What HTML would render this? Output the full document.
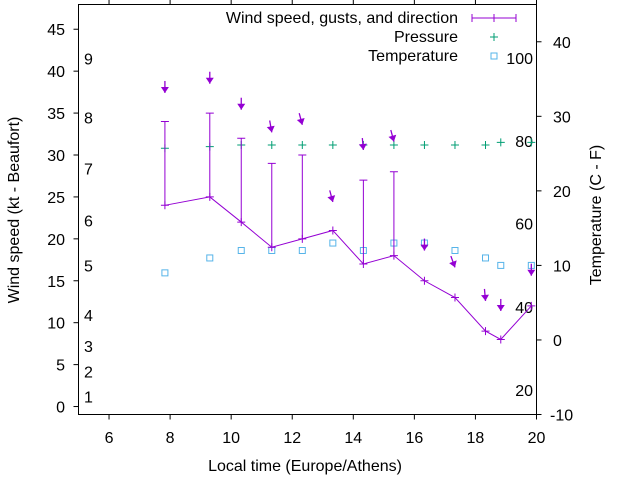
<!DOCTYPE html>
<html><head><meta charset="utf-8"><style>
html,body{margin:0;padding:0;background:#fff}
svg{display:block;font-family:"Liberation Sans",sans-serif}
</style></head><body>
<svg id="chart" width="640" height="480" viewBox="0 0 640 480"></svg>
<script>
const times=[7.83,9.3,10.33,11.33,12.33,13.33,14.33,15.33,16.33,17.33,18.33,18.83,19.83];
const windKt=[24,25,22,19,20,21,17,18,15,13,9,8,12];
const gustKt=[34,35,32,29,30,null,27,28,null,null,null,null,null];
const arrowPos=[37.4,38.5,35.4,32.7,33.6,24.4,30.6,31.6,18.6,16.6,12.6,11.4,15.6];
const windDir=[0,0,0,350,345,345,355,345,0,340,355,0,0];
const pressure=[30.8,31.0,31.2,31.2,31.2,31.2,31.2,31.2,31.2,31.2,31.2,31.5,31.5];
const tempC=[9,11,12,12,12,13,12,13,13,12,11,10,10];
const xTicks=[6,8,10,12,14,16,18,20];
const yTicks=[0,5,10,15,20,25,30,35,40,45];
const y2Ticks=[-10,0,10,20,30,40];
const beaufortLabels=["1","2","3","4","5","6","7","8","9"];
const beaufortY=[1.2,4.2,7.2,10.9,16.8,22.2,28.4,34.5,41.5];
const fahrLabels=["20","40","60","80","100"];
const fahrC=[-6.7,4.4,15.6,26.7,37.8];

const L=78.5,R=536.5,T=4.5,B=414.5;
const X=t=>L+(t-5)*(R-L)/15;
const Y=v=>B-(v+0.95)*(B-T)/48.9;
const Y2=v=>B-(v+10)*(B-T)/55;
const svg=document.getElementById('chart');
const NS='http://www.w3.org/2000/svg';
function mk(tag,attrs,name,text){const e=document.createElementNS(NS,tag);for(const k in attrs)e.setAttribute(k,attrs[k]);


if(text!==undefined)e.textContent=text;svg.appendChild(e);return e;}
const P='#9400d3',G='#009e73',C='#56b4e9';

mk('rect',{x:L,y:T,width:R-L,height:B-T,fill:'none',stroke:'#000','stroke-width':1},'plot-frame');
xTicks.forEach(t=>{const x=X(t);
mk('line',{x1:x,y1:B,x2:x,y2:B+5,stroke:'#000'},'x-tick');
mk('line',{x1:x,y1:T,x2:x,y2:T-5,stroke:'#000'},'x2-tick');
mk('text',{x:x,y:443,'text-anchor':'middle','font-size':16},'x-tick-label',String(t));});
yTicks.forEach(v=>{const y=Y(v);
mk('line',{x1:L-5,y1:y,x2:L,y2:y,stroke:'#000'},'y-tick');
mk('text',{x:65,y:y+6,'text-anchor':'end','font-size':16},'y-tick-label',String(v));});
y2Ticks.forEach(v=>{const y=Y2(v);
mk('line',{x1:R,y1:y,x2:R+5,y2:y,stroke:'#000'},'y2-tick');
mk('text',{x:v<0?550:553,y:y+6,'text-anchor':'start','font-size':16},'y2-tick-label',String(v));});
beaufortLabels.forEach((s,i)=>mk('text',{x:84,y:Y(beaufortY[i])+6,'font-size':16},'beaufort-label',s));
fahrLabels.forEach((s,i)=>mk('text',{x:533,y:Y2(fahrC[i])+6,'text-anchor':'end','font-size':16},'fahrenheit-label',s));

mk('text',{x:305,y:471,'text-anchor':'middle','font-size':16},'x-axis-title','Local time (Europe/Athens)');
mk('text',{x:0,y:0,'text-anchor':'middle','font-size':16,transform:'translate(19,210) rotate(-90)'},'y-axis-title','Wind speed (kt - Beaufort)');
mk('text',{x:0,y:0,'text-anchor':'middle','font-size':16,transform:'translate(601,215) rotate(-90)'},'y2-axis-title','Temperature (C - F)');

// temperature
times.forEach((t,i)=>mk('rect',{x:X(t)-3,y:Y2(tempC[i])-3,width:6,height:6,fill:'none',stroke:C},'temperature-point'));
// pressure
times.forEach((t,i)=>{const x=X(t),y=Y(pressure[i]);
mk('path',{d:`M${x-4},${y}H${x+4}M${x},${y-4}V${y+4}`,stroke:G},'pressure-point');});
// wind line
mk('polyline',{points:times.map((t,i)=>X(t)+','+Y(windKt[i])).join(' '),fill:'none',stroke:P},'wind-line');
times.forEach((t,i)=>{const x=X(t),y=Y(windKt[i]);
mk('path',{d:`M${x-4},${y}H${x+4}M${x},${y-4}V${y+4}`,stroke:P},'wind-point');
if(gustKt[i]!==null){const g=Y(gustKt[i]);
mk('path',{d:`M${x},${y}V${g}M${x-4},${g}H${x+4}`,stroke:P},'gust-bar');}});
// direction arrows
times.forEach((t,i)=>{const hx=X(t),hy=Y(arrowPos[i]);const a=windDir[i]*Math.PI/180;
const dx=Math.sin(a),dy=-Math.cos(a);const len=12;
const tx=hx+dx*len,ty=hy+dy*len;
const px=-dy,py=dx;
mk('line',{x1:tx,y1:ty,x2:hx,y2:hy,stroke:P,'stroke-width':1.3},'direction-arrow-shaft');
mk('polygon',{points:`${hx},${hy} ${hx+dx*6+px*4},${hy+dy*6+py*4} ${hx+dx*6-px*4},${hy+dy*6-py*4}`,fill:P},'direction-arrow-head');});

// legend
mk('text',{x:458,y:23,'text-anchor':'end','font-size':16},'legend-wind-label','Wind speed, gusts, and direction');
mk('path',{d:'M472,18H516M472,14V22M516,14V22M494,14V22',stroke:P},'legend-wind-sample');
mk('text',{x:458,y:42,'text-anchor':'end','font-size':16},'legend-pressure-label','Pressure');
mk('path',{d:'M490,37H498M494,33V41',stroke:G},'legend-pressure-sample');
mk('text',{x:458,y:61,'text-anchor':'end','font-size':16},'legend-temperature-label','Temperature');
mk('rect',{x:491,y:53,width:6,height:6,fill:'none',stroke:C},'legend-temperature-sample');
</script>
</body></html>
